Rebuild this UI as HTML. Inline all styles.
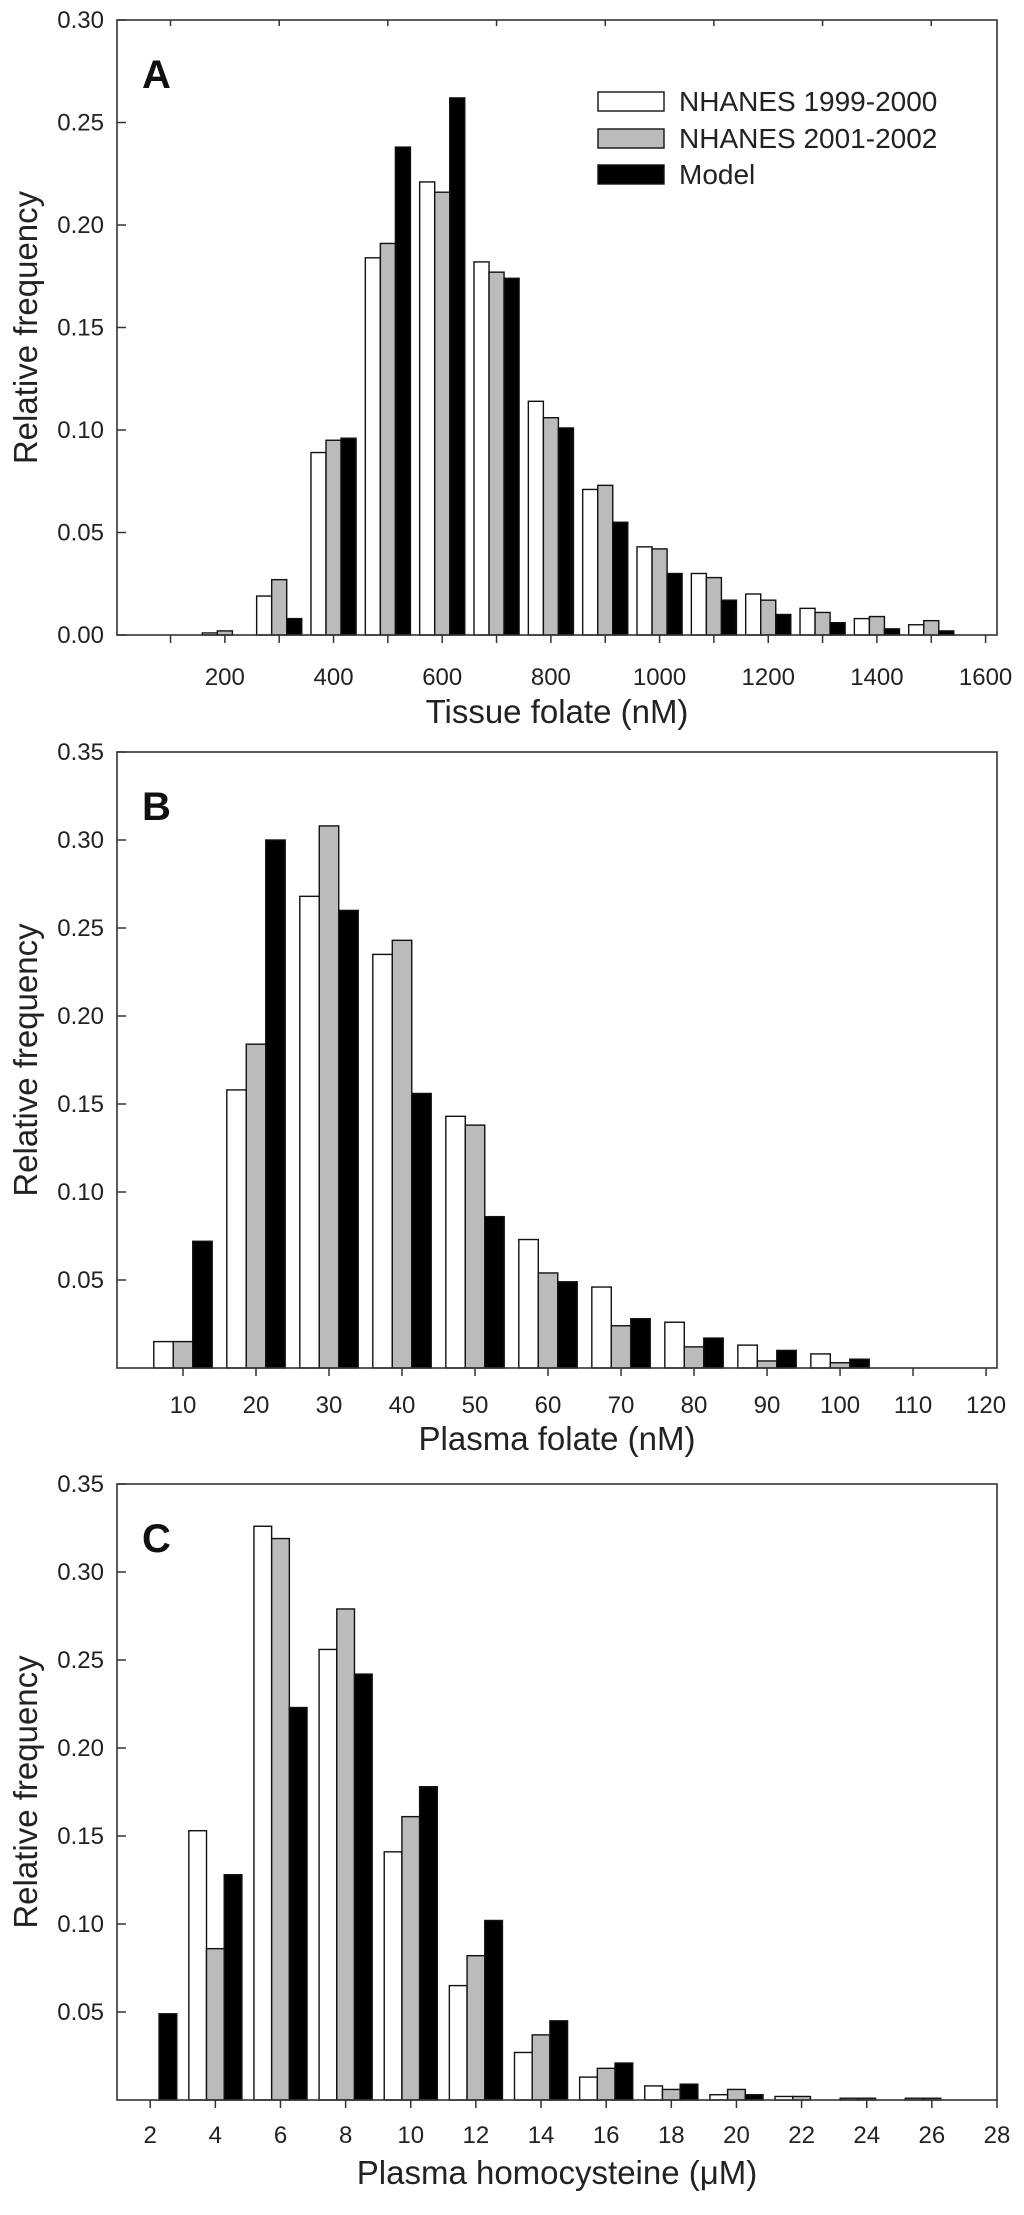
<!DOCTYPE html>
<html><head><meta charset="utf-8"><style>
html,body{margin:0;padding:0;background:#fff;}
svg{display:block;font-family:"Liberation Sans",Arial,sans-serif;}
</style></head><body>
<svg id="fig" width="1024" height="2215" viewBox="0 0 1024 2215" xmlns="http://www.w3.org/2000/svg"></svg>
<script>
// Panel A: tissue folate
const aCats = [200,300,400,500,600,700,800,900,1000,1100,1200,1300,1400,1500];
const aNh99 = [0.001,0.019,0.089,0.184,0.221,0.182,0.114,0.071,0.043,0.030,0.020,0.013,0.008,0.005];
const aNh01 = [0.002,0.027,0.095,0.191,0.216,0.177,0.106,0.073,0.042,0.028,0.017,0.011,0.009,0.007];
const aModel = [0,0.008,0.096,0.238,0.262,0.174,0.101,0.055,0.030,0.017,0.010,0.006,0.003,0.002];
const aYTicks = ["0.00","0.05","0.10","0.15","0.20","0.25","0.30"];
const aXTicks = ["200","400","600","800","1000","1200","1400","1600"];
// Panel B: plasma folate
const bCats = [10,20,30,40,50,60,70,80,90,100,110];
const bNh99 = [0.015,0.158,0.268,0.235,0.143,0.073,0.046,0.026,0.013,0.008,0];
const bNh01 = [0.015,0.184,0.308,0.243,0.138,0.054,0.024,0.012,0.004,0.003,0];
const bModel = [0.072,0.300,0.260,0.156,0.086,0.049,0.028,0.017,0.010,0.005,0];
const bYTicks = ["0.05","0.10","0.15","0.20","0.25","0.30","0.35"];
const bXTicks = ["10","20","30","40","50","60","70","80","90","100","110","120"];
// Panel C: plasma homocysteine
const cCats = [2,4,6,8,10,12,14,16,18,20,22,24,26];
const cNh99 = [0,0.153,0.326,0.256,0.141,0.065,0.027,0.013,0.008,0.003,0.002,0.001,0.001];
const cNh01 = [0,0.086,0.319,0.279,0.161,0.082,0.037,0.018,0.006,0.006,0.002,0.001,0.001];
const cModel = [0.049,0.128,0.223,0.242,0.178,0.102,0.045,0.021,0.009,0.003,0,0,0];
const cYTicks = ["0.05","0.10","0.15","0.20","0.25","0.30","0.35"];
const cXTicks = ["2","4","6","8","10","12","14","16","18","20","22","24","26","28"];

const NS="http://www.w3.org/2000/svg";
const svg=document.getElementById('fig');
function mk(tag,attrs,parent){const e=document.createElementNS(NS,tag);for(const k in attrs)e.setAttribute(k,attrs[k]);(parent||svg).appendChild(e);return e;}

function panel(cfg){
  const g=mk('g',{});
  
  
  const L=117,R=997,T=cfg.top,B=cfg.bottom;
  const xs=v=>L+(v-cfg.xmin)/(cfg.xmax-cfg.xmin)*(R-L);
  const ys=v=>B-(v/cfg.ymax)*(B-T);
  const series=[[cfg.s1,'#ffffff','nhanes-1999-bar'],[cfg.s2,'#bbbbbb','nhanes-2001-bar'],[cfg.s3,'#000000','model-bar']];
  const bw=cfg.groupW/3;
  cfg.cats.forEach((c,i)=>{
    series.forEach((s,j)=>{
      const v=s[0][i]; if(!(v>0))return;
      const x0=xs(c-cfg.groupW/2+j*bw), x1=xs(c-cfg.groupW/2+(j+1)*bw);
      const r=mk('rect',{x:x0,y:ys(v),width:x1-x0,height:B-ys(v),fill:s[1],stroke:'#111','stroke-width':1.4},g);
      
      
    });
  });
  const fr=mk('rect',{x:L,y:T,width:R-L,height:B-T,fill:'none',stroke:'#333','stroke-width':1.6},g);
  
  
  cfg.yTicks.forEach(t=>{
    const y=ys(parseFloat(t));
    mk('line',{x1:L,x2:L+9,y1:y,y2:y,stroke:'#333','stroke-width':1.5},g);
    const tx=mk('text',{x:104,y:y+8,'font-size':24,'text-anchor':'end',fill:'#222'},g);
    tx.textContent=t;
    
    
  });
  for(let v=cfg.tickStart;v<=cfg.xmax+1e-9;v+=cfg.tickStep){
    mk('line',{x1:xs(v),x2:xs(v),y1:B,y2:B+8,stroke:'#333','stroke-width':1.5},g);
  }
  if(cfg.topTicks){for(let v=100;v<=1500;v+=200){mk('line',{x1:xs(v),x2:xs(v),y1:T,y2:T+6,stroke:'#333','stroke-width':1.5},g);}}
  cfg.xTicks.forEach(t=>{
    const tx=mk('text',{x:xs(parseFloat(t)),y:B+cfg.labelDy,'font-size':24,'text-anchor':'middle',fill:'#222'},g);
    tx.textContent=t;
    
    
  });
  const xt=mk('text',{x:557,y:B+cfg.titleDy,'font-size':33,'text-anchor':'middle',fill:'#222'},g);
  xt.textContent=cfg.xTitle;
  
  
  const cy=(T+B)/2;
  const yt=mk('text',{x:0,y:0,'font-size':33,'text-anchor':'middle',fill:'#222',transform:`translate(37 ${cy}) rotate(-90)`},g);
  yt.textContent='Relative frequency';
  
  
  const pl=mk('text',{x:142,y:T+68,'font-size':40,'font-weight':'bold',fill:'#111'},g);
  pl.textContent=cfg.letter;
  
  
  return g;
}

panel({name:'panel-a-tissue-folate',top:20,bottom:635,xmin:1.5,xmax:1621,ymax:0.30,cats:aCats,s1:aNh99,s2:aNh01,s3:aModel,groupW:83,yTicks:aYTicks,xTicks:aXTicks,tickStart:100,tickStep:100,topTicks:true,labelDy:50,titleDy:88,xTitle:'Tissue folate (nM)',letter:'A'});
panel({name:'panel-b-plasma-folate',top:752,bottom:1368,xmin:0.96,xmax:121.5,ymax:0.35,cats:bCats,s1:bNh99,s2:bNh01,s3:bModel,groupW:8,yTicks:bYTicks,xTicks:bXTicks,tickStart:10,tickStep:10,topTicks:false,labelDy:45,titleDy:82,xTitle:'Plasma folate (nM)',letter:'B'});
panel({name:'panel-c-homocysteine',top:1484,bottom:2100,xmin:0.98,xmax:28,ymax:0.35,cats:cCats,s1:cNh99,s2:cNh01,s3:cModel,groupW:1.63,yTicks:cYTicks,xTicks:cXTicks,tickStart:2,tickStep:2,topTicks:false,labelDy:43,titleDy:84,xTitle:'Plasma homocysteine (\u03BCM)',letter:'C'});

const lg=mk('g',{});


const legendItems=[['NHANES 1999-2000','#ffffff',101],['NHANES 2001-2002','#bbbbbb',138],['Model','#000000',174]];
legendItems.forEach(it=>{
  const r=mk('rect',{x:598,y:it[2]-9,width:66,height:19,fill:it[1],stroke:'#111','stroke-width':1.4},lg);
  
  
  const t=mk('text',{x:679,y:it[2]+10,'font-size':28,fill:'#222'},lg);
  t.textContent=it[0];
  
  
});
</script>
</body></html>
